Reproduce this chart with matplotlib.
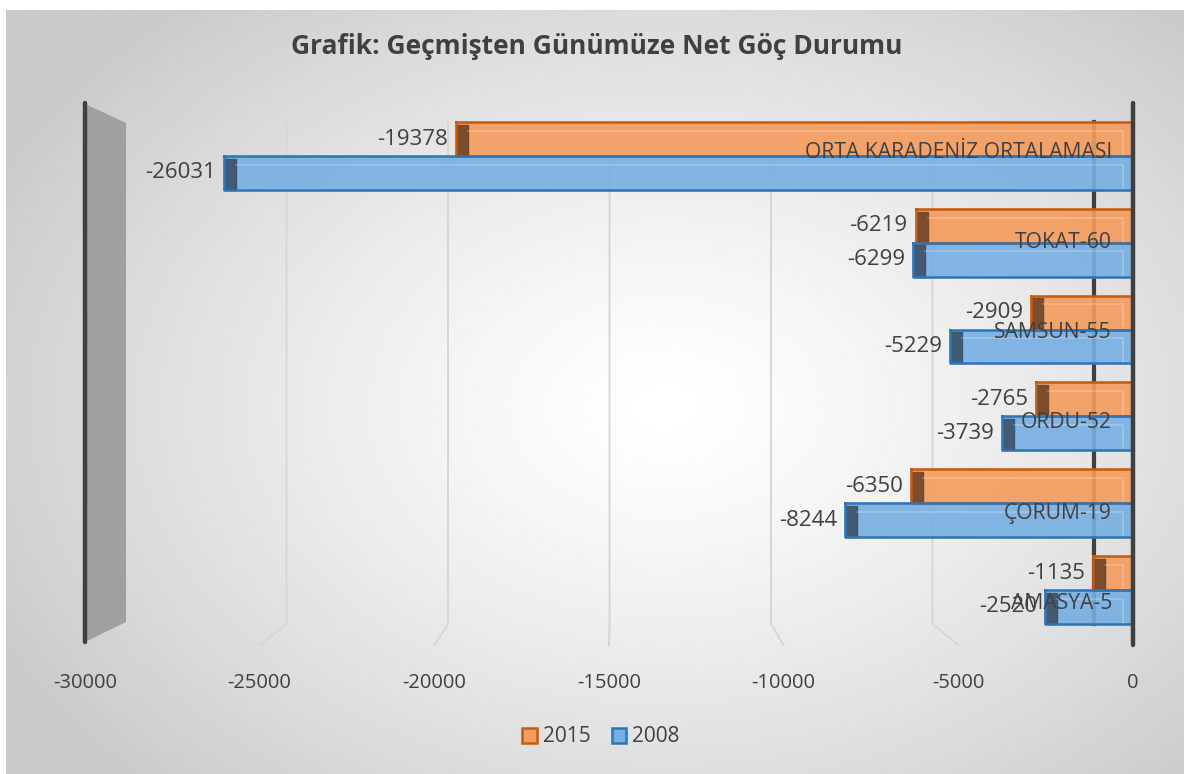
import numpy as np
import matplotlib.pyplot as plt
from matplotlib.patches import Polygon, Patch

categories = ['ORTA KARADENİZ ORTALAMASI', 'TOKAT-60', 'SAMSUN-55',
              'ORDU-52', 'ÇORUM-19', 'AMASYA-5']
values_2015 = [-19378, -6219, -2909, -2765, -6350, -1135]
values_2008 = [-26031, -6299, -5229, -3739, -8244, -2520]
xticks = [-30000, -25000, -20000, -15000, -10000, -5000, 0]

W, H = 1184, 774
TXT = '#404040'
plt.rcParams['font.family'] = ['Open Sans', 'DejaVu Sans']

fig = plt.figure(figsize=(W / 100, H / 100), dpi=100)
fig.patch.set_facecolor('white')

# radial gray background like the Excel chart area
bg = fig.add_axes([6 / W, 0, 1 - 6 / W, 1 - 10 / H], zorder=-10)
gx, gy = np.meshgrid(np.linspace(0, 1, 400), np.linspace(0, 1, 260))
r = np.sqrt(((gx - 0.56) / 0.62) ** 2 + ((gy - 0.52) / 0.68) ** 2)
shade = np.clip(1.0 - 0.2 * r ** 1.3, 0.79, 1)
bg.imshow(shade, cmap='gray', vmin=0, vmax=1, aspect='auto',
          extent=[0, 1, 0, 1], origin='upper')
bg.axis('off')

# front plane: -30000 at px 85, 0 at px 1133; rows from px 100 to 642
ax = fig.add_axes([85 / W, (H - 642) / H, 1048 / W, 542 / H])
ax.set_xlim(-30000, 0)
ytop, ybot = -0.645, 5.6
ax.set_ylim(ybot, ytop)
ax.patch.set_alpha(0)
for s in ax.spines.values():
    s.set_visible(False)


def px_x(px):
    return (px - 85) / 1048 * 30000 - 30000


def px_y(py):
    return (py - 100) / 542 * (ybot - ytop) + ytop


def back(v):
    # position of a value on the back wall (perspective)
    return px_x(125) + (v + 30000) / 30000 * (px_x(1094) - px_x(125))


gtop, gbot = px_y(122), px_y(624)

# left wall
wall = Polygon([(px_x(85), px_y(104)), (px_x(126), px_y(123)),
                (px_x(126), px_y(622)), (px_x(85), px_y(642))],
               closed=True, fc='#a0a0a0', ec='none', zorder=1)
ax.add_patch(wall)
ax.plot([-30000, -30000], [px_y(103), px_y(642)], color=TXT, lw=3.2,
        solid_capstyle='round', zorder=2, clip_on=False)

# gridlines on the back wall and floor
for v in xticks[1:-1]:
    ax.plot([back(v), back(v), v], [gtop, gbot, px_y(645)], color='#d6d6d6',
            lw=1.4, zorder=1, clip_on=False)
ax.plot([back(0), back(0)], [gtop, gbot], color=TXT, lw=3, zorder=1)
ax.plot([0, 0], [px_y(103), px_y(645)], color=TXT, lw=3.2,
        solid_capstyle='round', zorder=6, clip_on=False)

bh = 0.39
dx = px_x(97) - px_x(85)
ypos = np.arange(len(categories))


def draw_bar(v, yc, face, edge, dark):
    y0, y1 = yc - bh / 2, yc + bh / 2
    ax.fill([v, 0, 0, v], [y0, y0, y1, y1], color=face, alpha=0.9, zorder=3)
    ax.fill([v, v + dx, v + dx, v], [y0 + 0.03, y0 + 0.03, y1, y1],
            color=dark, alpha=0.9, zorder=4)
    # inner back edges seen through the transparent bar
    ax.plot([v + dx, -300, -300], [y0 + 0.1, y0 + 0.1, y1], color='white',
            alpha=0.25, lw=1.2, zorder=4)
    ax.plot([v, 0, 0, v, v], [y0, y0, y1, y1, y0], color=edge, lw=1.8,
            zorder=5)
    ax.text(v - px_x(93) + px_x(85), yc, str(v), ha='right', va='center',
            fontsize=16, color=TXT, zorder=7)


for i in ypos:
    draw_bar(values_2015[i], i - bh / 2, '#F59B5C', '#C55A11', '#6E4426')
    draw_bar(values_2008[i], i + bh / 2, '#76AEE3', '#2E75B6', '#3C5068')
    ax.text(px_x(1112), i - 0.045 + 0.04 * i, categories[i], ha='right',
            va='center', fontsize=15.2, color=TXT, zorder=8)

ax.set_yticks([])
ax.set_xticks(xticks)
ax.set_xticklabels([str(t) for t in xticks], fontsize=14.5, color=TXT)
ax.tick_params(axis='x', length=0, pad=22)

fig.text(597 / W, 1 - 47 / H, 'Grafik: Geçmişten Günümüze Net Göç Durumu',
         ha='center', va='center', fontsize=19, fontweight='bold', color=TXT)

handles = [Patch(fc='#F59B5C', ec='#C55A11', lw=1.8, label='2015'),
           Patch(fc='#76AEE3', ec='#2E75B6', lw=1.8, label='2008')]
leg = fig.legend(handles=handles, loc='center', ncol=2,
                 bbox_to_anchor=(601 / W, 1 - 737 / H), frameon=False,
                 fontsize=15, handlelength=0.7, handleheight=0.7,
                 handletextpad=0.3, columnspacing=1.0)
for t in leg.get_texts():
    t.set_color(TXT)

fig.savefig('out.png', dpi=100)
